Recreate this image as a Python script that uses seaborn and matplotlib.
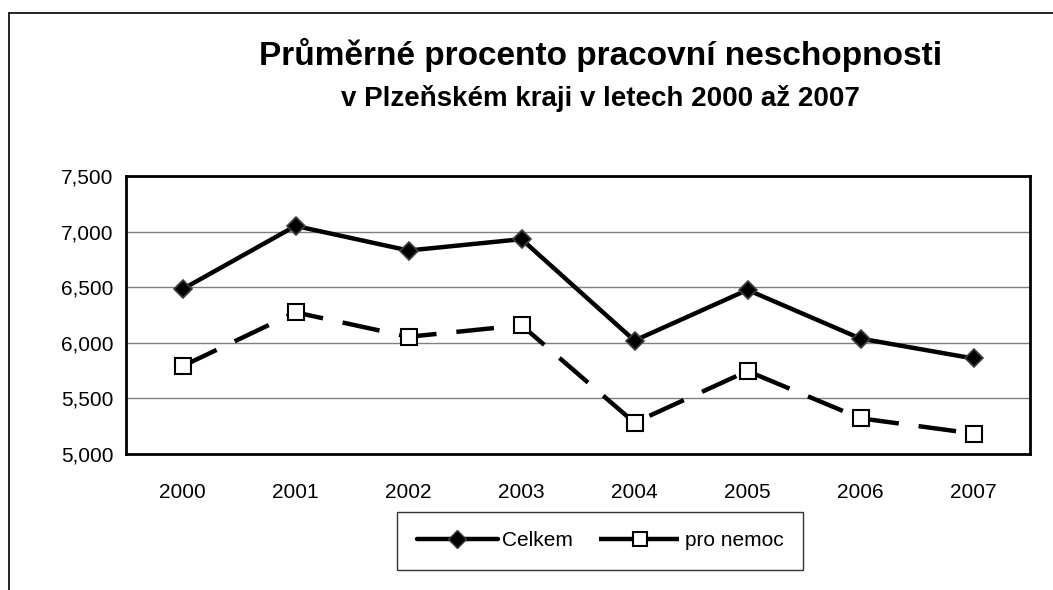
import pandas as pd
import matplotlib.pyplot as plt
import seaborn as sns
from matplotlib.lines import Line2D
from matplotlib.ticker import FuncFormatter, FixedLocator

# data
years = ['2000', '2001', '2002', '2003', '2004', '2005', '2006', '2007']
celkem = [6482, 7051, 6830, 6932, 6020, 6476, 6038, 5859]
pro_nemoc = [5790, 6274, 6054, 6158, 5282, 5746, 5321, 5184]
series_names = ['Celkem', 'pro nemoc']

df = pd.DataFrame({'rok': years, 'Celkem': celkem, 'pro nemoc': pro_nemoc})

sns.set_style('white')
plt.rcParams['font.family'] = ['Liberation Sans', 'DejaVu Sans']
plt.rcParams['text.color'] = 'black'
plt.rcParams['xtick.color'] = 'black'
plt.rcParams['ytick.color'] = 'black'

fig = plt.figure(figsize=(10.53, 5.9), dpi=100)
ax = fig.add_axes([126 / 1053, 1 - 454 / 590, (1030 - 126) / 1053, (454 - 176) / 590])

# Celkem: solid black line, dark diamonds
sns.lineplot(data=df, x='rok', y='Celkem', ax=ax, color='black', lw=3.2,
             marker='D', markersize=9.5, markerfacecolor='black',
             markeredgecolor='#404040', markeredgewidth=1.2, label=series_names[0])
# pro nemoc: dashed black line, white squares
sns.lineplot(data=df, x='rok', y='pro nemoc', ax=ax, color='black', lw=3.2,
             dashes=(8.5, 4.5), marker='s', markersize=11.5, markerfacecolor='white',
             markeredgecolor='black', markeredgewidth=1.5, label=series_names[1])
ax.lines[-1].set_zorder(3)

ax.set_xlim(-0.5, len(years) - 0.5)
ax.set_ylim(5000, 7500)
ax.set_yticks([5000, 5500, 6000, 6500, 7000, 7500])
ax.yaxis.set_major_formatter(FuncFormatter(lambda v, p: f'{int(v):,}'))
ax.grid(axis='y', color='#808080', lw=1)
ax.set_axisbelow(True)
ax.set_xlabel('')
ax.set_ylabel('')

ax.tick_params(axis='y', which='major', direction='out', length=5, width=1.2,
               colors='black', labelsize=15, pad=4)
ax.tick_params(axis='x', which='major', length=0, labelsize=15, pad=21)
ax.xaxis.set_minor_locator(FixedLocator([i + 0.5 for i in range(len(years) - 1)]))
ax.tick_params(axis='x', which='minor', direction='in', length=7, width=1.2, color='black')

for s in ax.spines.values():
    s.set_visible(True)
    s.set_color('black')
    s.set_linewidth(2)

ax.legend_.remove()
handles = [
    Line2D([], [], color='black', lw=3.2, marker='D', markersize=9,
           markerfacecolor='black', markeredgecolor='#404040'),
    Line2D([], [], color='black', lw=3.2, dashes=(8, 2), marker='s', markersize=10,
           markerfacecolor='white', markeredgecolor='black', markeredgewidth=1.5),
]
leg = fig.legend(handles, series_names, loc='center', bbox_to_anchor=(600 / 1053, 1 - 541 / 590),
                 ncol=2, fontsize=15, frameon=True, fancybox=False, handlelength=3.9,
                 handletextpad=0.2, columnspacing=1.25, borderpad=0.95)
leg.get_frame().set_edgecolor('black')
leg.get_frame().set_linewidth(1)

fig.text(601 / 1053, 1 - 55 / 590, 'Průměrné procento pracovní neschopnosti',
         ha='center', va='center', fontsize=24, fontweight='bold')
fig.text(600 / 1053, 1 - 99 / 590, 'v Plzeňském kraji v letech 2000 až 2007',
         ha='center', va='center', fontsize=20, fontweight='bold')

# outer chart border (only top and left visible in the crop)
fig.add_artist(Line2D([8.5 / 1053, 8.5 / 1053], [0, 1 - 13 / 590], color='black', lw=1.2,
                      transform=fig.transFigure))
fig.add_artist(Line2D([8.5 / 1053, 1], [1 - 13 / 590, 1 - 13 / 590], color='black', lw=1.2,
                      transform=fig.transFigure))

plt.savefig('out.png', dpi=100)
